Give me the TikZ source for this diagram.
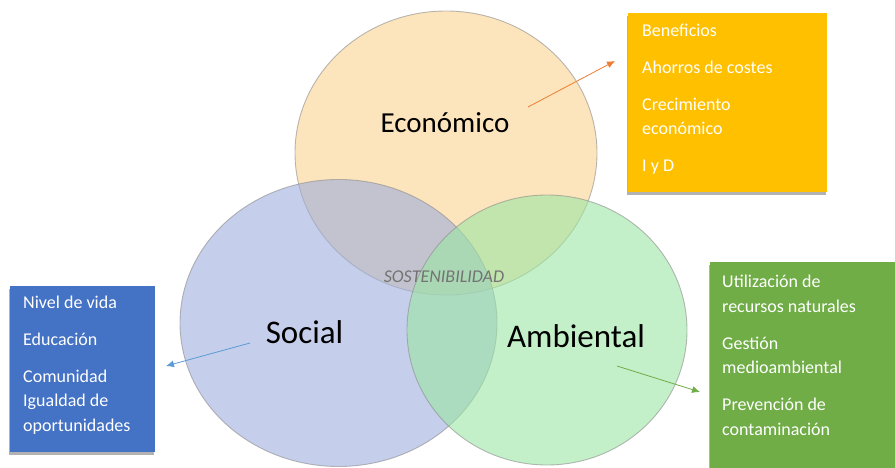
\documentclass[tikz,border=0pt]{standalone}
\usepackage{fontspec}
\setmainfont{Carlito}
\usetikzlibrary{shapes.geometric,arrows.meta,shadows}
\definecolor{econfill}{RGB}{250,210,143}
\definecolor{socfill}{RGB}{158,173,220}
\definecolor{ambfill}{RGB}{155,230,163}
\definecolor{boxorange}{RGB}{255,192,0}
\definecolor{boxblue}{RGB}{68,114,196}
\definecolor{boxgreen}{RGB}{112,173,71}
\definecolor{arrorange}{RGB}{237,125,49}
\definecolor{arrblue}{RGB}{91,155,213}
\definecolor{arrgreen}{RGB}{112,173,71}
\begin{document}
\begin{tikzpicture}[x=1pt,y=-1pt,
  venn/.style={ellipse, inner sep=0pt, fill opacity=0.6, draw=black!45, draw opacity=0.6, line width=0.9pt},
  lbl/.style={anchor=base, text=black},
  infobox/.style={rectangle, inner sep=0pt, anchor=north west,
    drop shadow={shadow xshift=-1.5pt, shadow yshift=-3pt, fill=black, opacity=0.3}},
  infotext/.style={anchor=base west, align=left, text=white, inner sep=0pt,
    font=\fontsize{18}{24.5}\selectfont},
  conn/.style={line width=0.8pt, -{Latex[length=8pt,width=7pt]}}
]
\useasboundingbox (0,0) rectangle (895,468);

% circles
\node[venn, fill=econfill, minimum width=302, minimum height=284] (econ) at (446,153) {};
\node[venn, fill=socfill, minimum width=317, minimum height=287] (soc) at (338.5,323) {};
\node[venn, fill=ambfill, minimum width=280, minimum height=270] (amb) at (547,330) {};

% labels
\node[lbl, font=\fontsize{29}{29}\selectfont] (econlbl) at (445,133) {Económico};
\node[lbl, font=\fontsize{33}{33}\selectfont] (soclbl) at (304.5,343) {Social};
\node[lbl, font=\fontsize{33}{33}\selectfont] (amblbl) at (576,347) {Ambiental};
\node[lbl, font=\itshape\fontsize{18}{18}\selectfont, text=black!55] (sost) at (444,282) {SOSTENIBILIDAD};

% boxes
\node[infobox, fill=boxorange, minimum width=199, minimum height=179] (ebox) at (628,13) {};
\node[infotext] (etext) at (642,172) {Beneficios\\[12.5pt]Ahorros de costes\\[12.5pt]Crecimiento\\económico\\[13pt]I y D};

\node[infobox, fill=boxblue, minimum width=145, minimum height=166] (sbox) at (10,286) {};
\node[infotext] (stext) at (23,431) {Nivel de vida\\[12.5pt]Educación\\[12.5pt]Comunidad\\Igualdad de\\oportunidades};

\node[infobox, fill=boxgreen, minimum width=190, minimum height=210] (abox) at (710,262) {};
\node[infotext] (atext) at (722,435) {Utilización de\\recursos naturales\\[12.5pt]Gestión\\medioambiental\\[12.5pt]Prevención de\\contaminación};

% arrows
\coordinate (ea0) at (528,107);
\coordinate (ea1) at (615,61);
\coordinate (sa0) at (250,343);
\coordinate (sa1) at (166,366);
\coordinate (aa0) at (617,366);
\coordinate (aa1) at (700,392);
\draw[conn, arrorange] (ea0) -- (ea1);
\draw[conn, arrblue] (sa0) -- (sa1);
\draw[conn, arrgreen] (aa0) -- (aa1);
\end{tikzpicture}
\end{document}
